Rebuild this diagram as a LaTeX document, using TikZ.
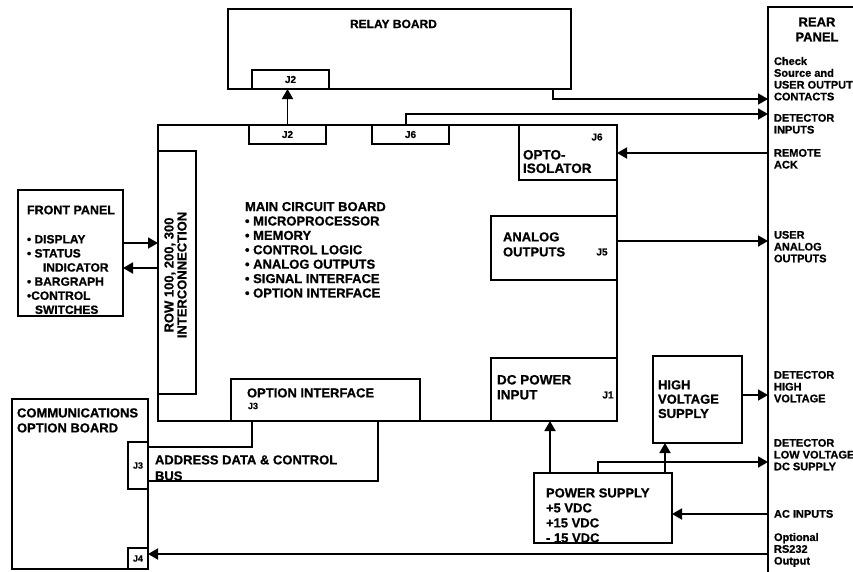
\documentclass[tikz,border=0pt]{standalone}
\usepackage{fontspec}
\setmainfont{Liberation Sans}[BoldFeatures={FakeBold=0.8}]
\usetikzlibrary{arrows.meta,calc}
\newcommand\myfs[2]{\fontsize{#1}{#2}\selectfont}
\begin{document}
\begin{tikzpicture}[x=1pt,y=-1pt,
  box/.style={draw, line width=1.8pt, inner sep=0, outer sep=0, anchor=north west},
  lbl/.style={inner sep=0, outer sep=0, anchor=north west, align=left, font=\bfseries\myfs{13}{15}},
  small/.style={inner sep=0, outer sep=0, font=\bfseries\myfs{10}{12}},
  tiny/.style={inner sep=0, outer sep=0, font=\bfseries\myfs{9}{11}},
  rp/.style={lbl, font=\bfseries\myfs{11}{11.8}},
  wire/.style={line width=1.8pt},
  arr/.style={wire, -{Triangle[length=10pt,width=11pt]}},
]
\fill[white] (0,0) rectangle (853,571);
\clip (0,0) rectangle (853,571);

% boxes
\node[box, minimum width=343pt, minimum height=80pt] (relay) at (228,9) {};
\node[box, minimum width=77pt, minimum height=19pt] (rj2) at (252,70) {};
\node[box, minimum width=459pt, minimum height=296pt] (main) at (158,125) {};
\node[box, minimum width=77pt, minimum height=19pt] (mj2) at (249,125) {};
\node[box, minimum width=77pt, minimum height=19pt] (mj6) at (372,125) {};
\node[box, minimum width=98pt, minimum height=55pt] (opto) at (519,125) {};
\node[box, minimum width=38pt, minimum height=243pt] (inter) at (158,151) {};
\node[box, minimum width=105pt, minimum height=126pt] (front) at (18,190) {};
\node[box, minimum width=126pt, minimum height=64pt] (ana) at (491,216) {};
\node[box, minimum width=126pt, minimum height=63pt] (dc) at (491,358) {};
\node[box, minimum width=89pt, minimum height=87pt] (hv) at (653,356) {};
\node[box, minimum width=189pt, minimum height=42pt] (opt) at (231,379) {};
\node[box, minimum width=138pt, minimum height=70pt] (ps) at (534,473) {};
\node[box, minimum width=136pt, minimum height=170pt] (comm) at (12,399) {};
\node[box, minimum width=20pt, minimum height=47pt] (cj3) at (128,442) {};
\node[box, minimum width=20pt, minimum height=21pt] (cj4) at (128,548) {};
\node[box, minimum width=100pt, minimum height=580pt] (rear) at (768,7) {};

% rear panel entry points
\coordinate (rp1) at (768,99);
\coordinate (rp2) at (768,114);
\coordinate (rp3) at (768,153);
\coordinate (rp4) at (768,241);
\coordinate (rp5) at (768,395);
\coordinate (rp6) at (768,462);
\coordinate (rp7) at (768,514);
\coordinate (rp8) at (768,554);

% connectors
\draw[arr] (mj2.north) -- (mj2.north |- rj2.south);
\draw[arr] ([xshift=-18pt]relay.south east) -- ++(0,10) -- (rp1);
\draw[arr] ([xshift=34pt]mj6.north west) -- ++(0,-11) -- (rp2);
\draw[arr] (rp3) -- (rp3 -| opto.east);
\draw[arr] (rp4 -| ana.east) -- (rp4);
\draw[arr] (rp5 -| hv.east) -- (rp5);
\draw[arr] ([xshift=64pt]ps.north west) -- ++(0,-11) -- (rp6);
\draw[arr] (rp7) -- (rp7 -| ps.east);
\draw[arr] (rp8) -- (rp8 -| cj4.east);
\draw[arr] ([xshift=16pt]ps.north west) -- ([xshift=16pt]ps.north west |- dc.south);
\draw[arr] ([xshift=131pt]ps.north west) -- ([xshift=131pt]ps.north west |- hv.south);
\draw[arr] (front.east |- 0,243) -- (inter.west |- 0,243);
\draw[arr] (inter.west |- 0,268) -- (front.east |- 0,268);
\draw[wire] ([xshift=21pt]opt.south west) -- ++(0,26) -- (cj3.east |- 0,447);
\draw[wire] ([xshift=147pt]opt.south west) -- ++(0,60) -- (cj3.east |- 0,481);

% texts
\node[lbl, font=\bfseries\myfs{12}{14}] (trelay) at (350,19.7) {RELAY BOARD};
\node[small] (trj2) at (rj2.center) {J2};
\node[small] (tmj2) at (mj2.center) {J2};
\node[small] (tmj6) at (mj6.center) {J6};
\node[inner sep=0, anchor=north, align=center, font=\bfseries\myfs{13}{15}] (trear) at (817,17.3) {REAR\\PANEL};
\node[rp] (t1) at (774,57) {Check\\Source and\\USER OUTPUT\\CONTACTS};
\node[rp] (t2) at (774,114) {DETECTOR\\INPUTS};
\node[rp] (t3) at (774,149) {REMOTE\\ACK};
\node[rp] (t4) at (774,231) {USER\\ANALOG\\OUTPUTS};
\node[rp] (t5) at (774,371) {DETECTOR\\HIGH\\VOLTAGE};
\node[rp] (t6) at (774,439) {DETECTOR\\LOW VOLTAGE\\DC SUPPLY};
\node[rp] (t7) at (774,510) {AC INPUTS};
\node[rp] (t8) at (774,533) {Optional\\RS232\\Output};

\node[lbl, font=\bfseries\myfs{12.5}{14}] (tfront) at (27,205.5) {FRONT PANEL};
\node[lbl, font=\bfseries\myfs{12}{14.1}] (tfront2) at (27,235) {• DISPLAY\\• STATUS\\\hspace*{16pt}INDICATOR\\• BARGRAPH\\•CONTROL\\\hspace*{8pt}SWITCHES};
\node[lbl, font=\bfseries\myfs{13}{14.4}] (tmain) at (245,202) {MAIN CIRCUIT BOARD\\• MICROPROCESSOR\\• MEMORY\\• CONTROL LOGIC\\• ANALOG OUTPUTS\\• SIGNAL INTERFACE\\• OPTION INTERFACE};
\node[inner sep=0, rotate=90, align=center, font=\bfseries\myfs{13}{13}] (tinter) at (175.5,275) {ROW 100, 200, 300\\INTERCONNECTION};

\node[small] (topj6) at (597,137) {J6};
\node[lbl, font=\bfseries\myfs{13.5}{13.5}] (topto) at (523,150) {OPTO-\\ISOLATOR};
\node[lbl] (tana) at (503,232.3) {ANALOG\\OUTPUTS};
\node[small] (tj5) at (602,252) {J5};
\node[lbl, font=\bfseries\myfs{13.5}{15}] (tdc) at (497,375) {DC POWER\\INPUT};
\node[small] (tj1) at (608,395) {J1};
\node[lbl, font=\bfseries\myfs{13}{14.3}] (thv) at (658,380.3) {HIGH\\VOLTAGE\\SUPPLY};
\node[lbl] (tps) at (546,488.3) {POWER SUPPLY\\+5 VDC\\+15 VDC\\- 15 VDC};
\node[lbl] (topt) at (247,388.3) {OPTION INTERFACE};
\node[tiny, anchor=west] (toptj3) at (248,406) {J3};
\node[lbl] (tcomm) at (17,408.3) {COMMUNICATIONS\\OPTION BOARD};
\node[tiny] (tcj3) at (cj3.center) {J3};
\node[tiny] (tcj4) at (cj4.center) {J4};
\node[lbl, font=\bfseries\myfs{13}{16}] (taddr) at (155,455.3) {ADDRESS DATA \& CONTROL\\BUS};
\end{tikzpicture}
\end{document}
